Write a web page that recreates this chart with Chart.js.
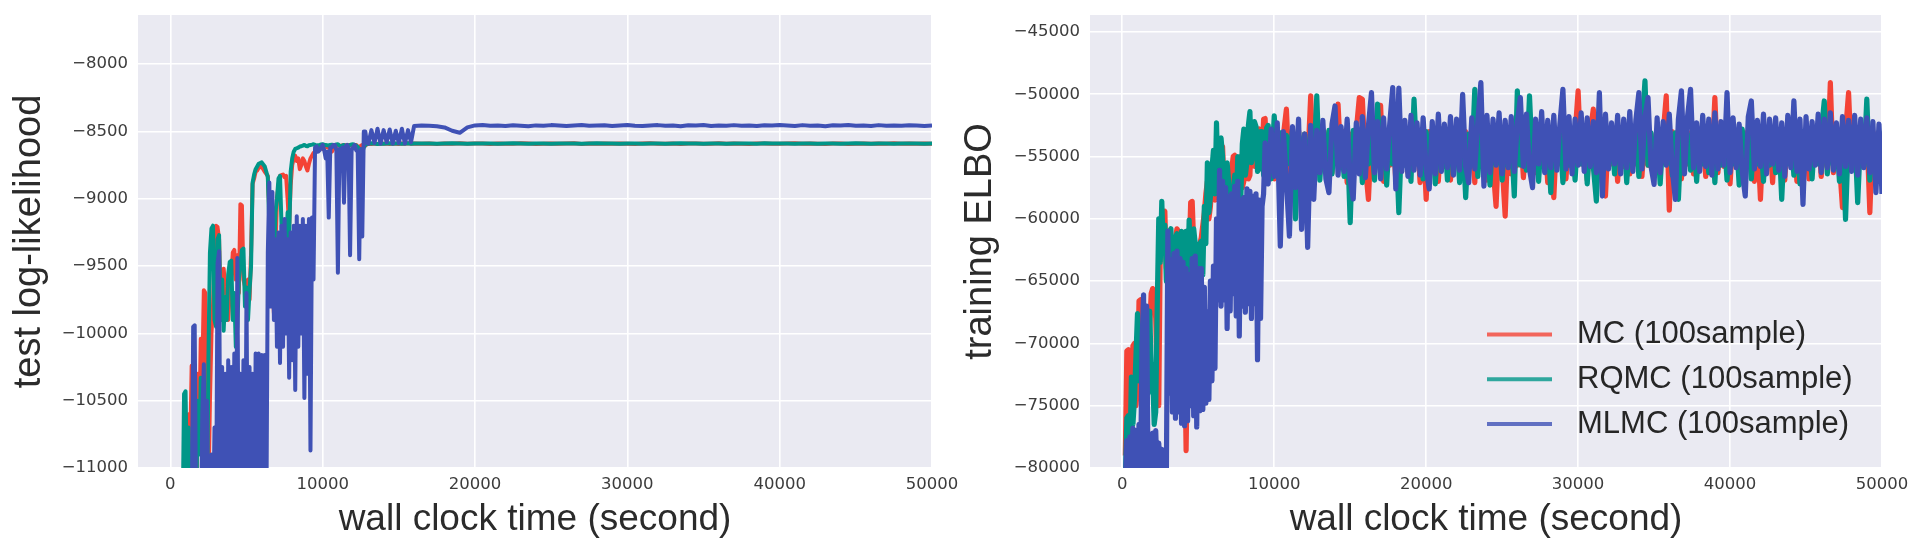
<!DOCTYPE html>
<html>
<head>
<meta charset="utf-8">
<script src="https://cdn.jsdelivr.net/npm/chart.js@4.4.1/dist/chart.umd.min.js"></script>
<style>
  body { margin: 0; background: #fff; width: 1926px; height: 555px; overflow: hidden; position: relative; }
  canvas { position: absolute; top: 0; }
  #llChart { left: 0; }
  #elboChart { left: 950px; }
</style>
</head>
<body>
<canvas id="llChart" width="970" height="555"></canvas>
<canvas id="elboChart" width="976" height="555"></canvas>
<script>
// ---- data ----
const timeTicks = [0, 10000, 20000, 30000, 40000, 50000];
const llTicks = [-11000, -10500, -10000, -9500, -9000, -8500, -8000];
const elboTicks = [-80000, -75000, -70000, -65000, -60000, -55000, -50000, -45000];
const legendNames = ['MC (100sample)', 'RQMC (100sample)', 'MLMC (100sample)'];

// left panel: test log-likelihood (dense samples early, sparse on the plateau)
const llTime = [
  0,100,200,300,400,500,600,700,800,900,
  1000,1100,1200,1300,1400,1500,1600,1700,1800,1900,
  2000,2100,2200,2300,2400,2500,2600,2700,2800,2900,
  3000,3100,3200,3300,3400,3500,3600,3700,3800,3900,
  4000,4100,4200,4300,4400,4500,4600,4700,4800,4900,
  5000,5100,5200,5300,5400,5500,5600,5700,5800,5900,
  6000,6100,6200,6300,6400,6500,6600,6700,6800,6900,
  7000,7100,7200,7300,7400,7500,7600,7700,7800,7900,
  8000,8100,8200,8300,8400,8500,8600,8700,8800,8900,
  9000,9100,9200,9300,9400,9500,9600,9700,9800,9900,
  10000,10100,10200,10300,10400,10500,10600,10700,10800,10900,
  11000,11100,11200,11300,11400,11500,11600,11700,11800,11900,
  12000,12100,12200,12300,12400,12500,12600,12700,12800,12900,
  13000,
  13200,13400,13600,13800,14000,14200,14400,14600,14800,15000,15200,15400,15600,15800,16000,
  16500,17000,17500,18000,18500,19000,19500,20000,
  20500,21000,21500,22000,22500,23000,23500,24000,
  24500,25000,25500,26000,26500,27000,27500,28000,
  28500,29000,29500,30000,30500,31000,31500,32000,
  32500,33000,33500,34000,34500,35000,35500,36000,
  36500,37000,37500,38000,38500,39000,39500,40000,
  40500,41000,41500,42000,42500,43000,43500,44000,
  44500,45000,45500,46000,46500,47000,47500,48000,
  48500,49000,49500,50000
];
const llMc = [
  null,null,null,null,null,null,null,null,null,null,
  -11500,-11500,-10600,-10900,-10240,-10300,-11200,-11500,-10300,-10700,
  -10040,-10300,-9680,-9700,-10900,-11200,-10500,-10000,-9800,-9400,
  -9200,-9210,-9300,-9800,-9600,-9520,-9650,-9750,-9900,-9700,
  -9600,-9400,-9380,-9600,-9420,-9700,-9040,-9050,-9600,-9650,
  -9700,-9600,-9750,-9400,-8890,-8850,-8800,-8790,-8770,-8765,
  -8760,-8780,-8800,-8815,-8830,-9100,-9330,-9650,-9850,-9400,
  -9000,-8900,-8830,-8825,-8820,-8840,-8830,-9000,-9200,-8900,
  -8750,-8700,-8680,-8720,-8700,-8780,-8750,-8700,-8720,-8760,
  -8790,-8740,-8700,-8680,-8660,-8650,-8640,-8630,-8620,-8625,
  -8630,-8615,-8610,-8618,-8620,-8640,-8650,-8630,-8620,-8610,
  -8600,-8605,-8610,-8603,-8600,-8602,-8605,-8601,-8600,-8606,
  -8610,-8603,-8600,-8612,-8620,-8608,-8600,-8602,-8605,-8596,
  -8592,
  -8594,-8590,-8593,-8589,-8592,-8590,-8594,-8589,-8591,-8593,-8590,-8592,-8588,-8591,-8590,
  -8592,-8589,-8593,-8590,-8591,-8588,-8592,-8590,
  -8589,-8593,-8590,-8591,-8592,-8588,-8590,-8593,
  -8591,-8589,-8592,-8590,-8588,-8593,-8590,-8591,
  -8590,-8592,-8589,-8591,-8593,-8590,-8588,-8592,
  -8591,-8590,-8593,-8589,-8590,-8592,-8591,-8588,
  -8592,-8590,-8591,-8593,-8589,-8590,-8592,-8591,
  -8590,-8588,-8592,-8590,-8591,-8593,-8589,-8590,
  -8593,-8591,-8589,-8592,-8590,-8591,-8588,-8592,
  -8590,-8592,-8589,-8591
];
const llRqmc = [
  null,null,null,null,null,null,null,null,-11500,-10450,
  -10430,-11200,-10700,-11500,-11500,-10900,-10800,-11300,-10500,-10900,
  -10330,-10600,-10800,-11500,-11500,-10200,-9400,-9220,-9200,-9900,
  -9950,-9300,-9270,-9900,-9600,-9980,-9730,-9900,-9560,-9470,
  -9460,-9900,-9700,-10100,-9950,-9600,-9500,-9380,-9370,-9800,
  -9660,-9900,-9680,-9500,-8880,-8820,-8780,-8760,-8740,-8735,
  -8730,-8745,-8760,-8800,-8840,-9200,-9050,-9400,-9500,-9100,
  -9000,-8850,-8830,-9200,-9700,-9400,-9350,-9100,-9300,-8800,
  -8700,-8650,-8630,-8625,-8620,-8612,-8610,-8605,-8600,-8608,
  -8610,-8602,-8600,-8598,-8595,-8600,-8605,-8602,-8600,-8597,
  -8595,-8598,-8600,-8603,-8605,-8600,-8598,-8601,-8600,-8597,
  -8595,-8605,-8610,-8604,-8600,-8612,-8620,-8608,-8600,-8597,
  -8595,-8600,-8605,-8615,-8630,-8645,-8650,-8620,-8600,-8594,
  -8592,
  -8588,-8590,-8593,-8589,-8591,-8590,-8588,-8592,-8590,-8589,-8591,-8590,-8588,-8592,-8590,
  -8590,-8589,-8591,-8590,-8588,-8590,-8592,-8590,
  -8589,-8590,-8591,-8590,-8588,-8590,-8591,-8589,
  -8590,-8592,-8590,-8589,-8590,-8591,-8590,-8588,
  -8590,-8589,-8591,-8590,-8590,-8592,-8589,-8590,
  -8591,-8590,-8588,-8590,-8589,-8591,-8590,-8590,
  -8592,-8590,-8589,-8590,-8591,-8588,-8590,-8590,
  -8589,-8591,-8590,-8590,-8592,-8589,-8590,-8591,
  -8590,-8588,-8590,-8591,-8589,-8590,-8592,-8590,
  -8589,-8590,-8591,-8590
];
const llMlmc = [
  null,null,null,null,null,null,null,null,null,null,
  null,null,null,null,-11500,-9950,-9940,-11500,-11500,-11500,
  -11500,-10600,-10230,-11500,-10500,-11500,-11500,-10900,-11500,-10700,
  -11500,-9480,-9390,-11500,-10250,-11500,-10300,-11500,-10200,-11500,
  -10250,-11500,-10150,-11500,-9440,-11500,-10300,-11500,-10200,-11500,
  -9700,-11500,-10250,-11500,-10300,-11500,-10150,-11500,-10150,-11500,
  -10160,-11500,-10160,-11500,-9400,-8880,-9800,-8950,-9900,-9300,
  -10100,-9250,-10220,-9200,-10100,-9150,-10000,-9300,-10330,-9250,
  -10200,-9200,-10420,-9130,-10100,-9200,-10000,-9150,-10480,-9200,
  -10300,-9150,-10870,-9140,-9600,-8620,-8610,-8650,-8640,-8620,
  -8600,-8640,-8700,-8650,-9140,-8620,-8620,-8600,-8600,-8640,
  -9550,-8630,-8650,-8620,-9030,-8610,-8600,-8620,-9420,-8640,
  -8620,-8600,-8640,-8650,-9450,-8630,-9280,-8500,-8500,-8585,
  -8590,
  -8490,-8585,-8480,-8590,-8490,-8580,-8485,-8590,-8495,-8585,-8480,-8590,-8490,-8580,-8460,
  -8455,-8458,-8462,-8470,-8495,-8510,-8470,-8455,
  -8452,-8458,-8455,-8460,-8454,-8457,-8462,-8455,
  -8458,-8453,-8456,-8460,-8455,-8452,-8458,-8456,
  -8454,-8459,-8455,-8452,-8457,-8460,-8455,-8453,
  -8458,-8455,-8461,-8454,-8456,-8452,-8459,-8455,
  -8457,-8453,-8458,-8455,-8460,-8454,-8456,-8452,
  -8455,-8459,-8453,-8457,-8455,-8461,-8454,-8456,
  -8452,-8458,-8455,-8460,-8453,-8457,-8455,-8458,
  -8454,-8456,-8459,-8455
];

// right panel: training ELBO (100 s samples up to 9600 s, then 200 s)
const elboTime = [
  0,100,200,300,400,500,600,700,800,900,
  1000,1100,1200,1300,1400,1500,1600,1700,1800,1900,
  2000,2100,2200,2300,2400,2500,2600,2700,2800,2900,
  3000,3100,3200,3300,3400,3500,3600,3700,3800,3900,
  4000,4100,4200,4300,4400,4500,4600,4700,4800,4900,
  5000,5100,5200,5300,5400,5500,5600,5700,5800,5900,
  6000,6100,6200,6300,6400,6500,6600,6700,6800,6900,
  7000,7100,7200,7300,7400,7500,7600,7700,7800,7900,
  8000,8100,8200,8300,8400,8500,8600,8700,8800,8900,
  9000,9100,9200,9300,9400,9500,9600,
  9800,
  10000,10200,10400,10600,10800,11000,11200,11400,11600,11800,
  12000,12200,12400,12600,12800,13000,13200,13400,13600,13800,
  14000,14200,14400,14600,14800,15000,15200,15400,15600,15800,
  16000,16200,16400,16600,16800,17000,17200,17400,17600,17800,
  18000,18200,18400,18600,18800,19000,19200,19400,19600,19800,
  20000,20200,20400,20600,20800,21000,21200,21400,21600,21800,
  22000,22200,22400,22600,22800,23000,23200,23400,23600,23800,
  24000,24200,24400,24600,24800,25000,25200,25400,25600,25800,
  26000,26200,26400,26600,26800,27000,27200,27400,27600,27800,
  28000,28200,28400,28600,28800,29000,29200,29400,29600,29800,
  30000,30200,30400,30600,30800,31000,31200,31400,31600,31800,
  32000,32200,32400,32600,32800,33000,33200,33400,33600,33800,
  34000,34200,34400,34600,34800,35000,35200,35400,35600,35800,
  36000,36200,36400,36600,36800,37000,37200,37400,37600,37800,
  38000,38200,38400,38600,38800,39000,39200,39400,39600,39800,
  40000,40200,40400,40600,40800,41000,41200,41400,41600,41800,
  42000,42200,42400,42600,42800,43000,43200,43400,43600,43800,
  44000,44200,44400,44600,44800,45000,45200,45400,45600,45800,
  46000,46200,46400,46600,46800,47000,47200,47400,47600,47800,
  48000,48200,48400,48600,48800,49000,49200,49400,49600,49800,
  50000
];
const elboMc = [
  null,null,-79000,-70600,-70500,-76000,-74000,-70200,-70000,-75000,
  -73500,-66600,-66500,-72000,-71000,-76000,-74000,-69500,-69000,-66000,
  -65600,-65800,-68000,-73000,-75000,-62000,-60000,-59500,-59400,-64000,
  -63000,-61000,-62000,-66000,-65000,-61500,-60800,-61000,-61700,-66000,
  -64500,-70000,-78600,-70000,-63000,-58700,-58600,-62000,-62500,-66000,
  -65000,-62000,-61500,-60500,-59500,-58000,-57000,-60000,-59000,-57000,
  -56500,-58500,-55800,-57000,-58000,-54300,-54200,-57500,-57500,-60000,
  -59500,-56500,-56000,-55000,-54900,-58000,-58500,-55500,-55000,-57500,
  -57000,-54000,-53500,-56800,-56500,-53200,-53000,-55800,-55500,-52900,
  -52800,-55500,-55000,-52000,-51950,-55000,-56500,
  -53000,
  -56800,-53100,-55600,-53300,-51200,-56600,-53000,-55700,-52900,-56400,
  -53200,-55600,-50130,-57200,-53100,-55800,-52800,-55600,-53000,-56300,
  -53300,-50800,-55700,-53000,-57100,-53200,-55600,-52900,-50270,-50400,
  -55800,-58440,-53100,-55600,-53300,-50900,-57000,-53000,-55700,-52700,
  -56900,-53200,-55600,-53000,-56300,-53100,-55700,-52900,-57100,-53300,
  -58440,-53000,-55600,-53200,-57000,-52800,-55800,-53100,-56900,-53000,
  -55600,-53300,-56500,-53000,-55700,-53200,-57100,-52900,-55600,-53100,
  -56900,-53000,-55800,-59000,-53200,-55600,-59780,-53000,-56400,-53300,
  -55700,-52800,-56700,-53100,-55600,-53000,-56300,-53200,-55800,-52900,
  -57100,-53100,-58300,-53000,-55600,-53300,-56800,-53000,-55700,-53200,
  -49730,-55600,-53100,-56900,-53000,-51200,-55700,-53200,-57100,-58170,
  -52900,-55600,-53100,-57000,-53000,-55800,-53300,-56400,-52800,-55600,
  -53100,-56600,-53000,-55700,-53200,-56300,-52900,-55600,-53100,-50130,
  -59300,-53000,-55800,-53200,-56800,-52800,-55600,-53100,-56400,-53000,
  -55700,-53300,-56600,-52900,-55600,-50270,-56300,-53100,-55800,-53000,
  -57200,-53200,-55600,-52800,-56900,-53100,-55700,-53000,-57000,-53300,
  -58440,-53000,-55600,-53200,-57100,-52900,-55800,-53100,-56900,-53000,
  -55600,-53300,-57000,-53000,-55700,-53200,-56800,-52900,-55600,-53100,
  -56600,-53000,-55800,-49060,-56300,-53200,-55600,-59100,-53000,-49870,
  -55700,-53100,-57000,-53300,-55600,-52800,-59500,-53000,-56400,-53100,
  -57000
];
const elboRqmc = [
  null,null,-81000,-76000,-75800,-79000,-72700,-76500,-74500,-71000,
  -67600,-73000,-69500,-74000,-72000,-75500,-70000,-74000,-67400,-71500,
  -72500,-76500,-75500,-67000,-60000,-63500,-58600,-62500,-60500,-65000,
  -63500,-61000,-60800,-66000,-65500,-61500,-61200,-66500,-64000,-61000,
  -66000,-62500,-61000,-65000,-60100,-64000,-64500,-60800,-62000,-67000,
  -66500,-62000,-61800,-64500,-59000,-62000,-55500,-59500,-58200,-56000,
  -54500,-58000,-52300,-57000,-57500,-53500,-55000,-59000,-59800,-55500,
  -57000,-60500,-66000,-58000,-56500,-59500,-55000,-60000,-58500,-54000,
  -52800,-56500,-55500,-52500,-51400,-55500,-54800,-52200,-52600,-56200,
  -56000,-53000,-53000,-56500,-55800,-52700,-52500,
  -56800,
  -51740,-55700,-53100,-57000,-53300,-55600,-52800,-60000,-53000,-55800,
  -53200,-57300,-53000,-55600,-50130,-56900,-53100,-55700,-52900,-56400,
  -53300,-55600,-53000,-56600,-53200,-60300,-52900,-55700,-53100,-57100,
  -53000,-55600,-53200,-56900,-50800,-55800,-53100,-57300,-52800,-55600,
  -53200,-59500,-53000,-55700,-53300,-57000,-50400,-55600,-53100,-56800,
  -53000,-55700,-52900,-57200,-53200,-55600,-53000,-56900,-52700,-55800,
  -53100,-57100,-53000,-58300,-53200,-55600,-49600,-56600,-53100,-55700,
  -53000,-57300,-52900,-55600,-53200,-56900,-53000,-55800,-53300,-58170,
  -49730,-55700,-53000,-56100,-50130,-55600,-53200,-57000,-53000,-55800,
  -53100,-57900,-52800,-55600,-53200,-57100,-53000,-55700,-53100,-56900,
  -52900,-55600,-53300,-57200,-53000,-55800,-58580,-53100,-56700,-53000,
  -55600,-53200,-56400,-52900,-55700,-53100,-57100,-53000,-55600,-53200,
  -56600,-52800,-48930,-55700,-53100,-56300,-53000,-57200,-53200,-55600,
  -53000,-56500,-53100,-58440,-52900,-55800,-53200,-56100,-53000,-57000,
  -53100,-55600,-53000,-56300,-53300,-57100,-52900,-55700,-53100,-56900,
  -53000,-55600,-53200,-57300,-52800,-55800,-53100,-56800,-53000,-55600,
  -53200,-57000,-52900,-55700,-53100,-56300,-53000,-58440,-53200,-55600,
  -52900,-56500,-53100,-57200,-53000,-55700,-53200,-56800,-52800,-55600,
  -53100,-50540,-56400,-53000,-55700,-53200,-57000,-52900,-60050,-53100,
  -55600,-53000,-58700,-53200,-55800,-50400,-56900,-53100,-55600,-53000,
  -57200
];
const elboMlmc = [
  null,null,-81000,-77800,-81000,-77500,-81000,-76800,-81000,-77000,
  -81000,-76500,-81000,-70000,-66100,-81000,-67000,-81000,-78000,-81000,
  -77200,-81000,-77000,-81000,-78000,-81000,-78500,-81000,-79000,-81000,
  -61000,-74000,-63300,-75500,-62800,-76000,-62600,-75500,-63200,-76400,
  -63500,-76600,-64000,-76200,-64500,-75000,-63200,-75800,-63000,-76700,
  -64000,-75400,-64000,-75300,-65500,-74800,-67500,-74500,-65000,-73000,
  -63800,-72000,-60000,-66500,-56100,-67000,-57000,-66500,-57500,-68800,
  -58200,-67400,-58000,-66000,-57400,-67800,-57000,-69400,-58500,-67000,
  -58300,-67500,-57600,-66800,-57800,-68000,-58200,-66800,-58000,-71300,
  -58500,-68000,-59000,-58000,-53900,-56800,-57200,
  -52800,
  -56600,-52300,-62200,-53000,-57000,-61400,-52600,-57500,-52000,-60850,
  -53200,-62300,-52500,-58440,-52900,-56300,-52100,-56800,-57900,-52400,
  -50940,-56500,-52600,-56200,-52000,-56900,-58400,-52300,-56400,-51800,
  -56700,-52500,-49870,-56300,-52200,-56800,-51900,-56000,-52400,-49460,
  -57600,-49500,-56200,-52100,-56600,-51700,-56100,-52300,-56500,-51900,
  -56000,-57600,-52200,-56400,-51600,-56200,-52400,-55900,-51800,-56500,
  -52000,-56100,-50000,-55800,-57100,-51900,-56000,-52200,-49060,-57370,
  -51700,-56300,-52000,-55700,-51500,-56400,-52100,-55900,-51800,-56200,
  -52300,-50270,-55800,-51600,-56000,-57500,-52000,-55600,-51400,-56300,
  -52100,-55900,-51700,-56100,-52400,-49600,-56000,-51800,-56400,-52000,
  -55700,-51500,-56200,-51900,-55800,-52200,-56300,-49870,-58170,-51600,
  -56000,-52300,-55600,-51700,-56400,-52000,-55900,-51400,-56200,-52100,
  -49870,-56000,-51800,-50270,-55800,-57240,-51900,-56300,-52200,-55700,
  -51600,-56100,-58440,-52000,-49730,-56400,-51800,-49600,-55900,-52300,
  -56200,-51700,-55800,-52000,-56500,-51500,-56000,-52200,-55700,-49870,
  -56300,-51900,-55900,-52400,-56200,-58170,-51800,-50540,-56000,-52100,
  -55800,-51600,-56400,-52000,-55600,-51900,-56100,-52300,-56600,-51700,
  -55900,-50540,-56200,-52000,-58840,-51800,-56000,-52200,-55700,-51600,
  -56300,-52000,-55900,-51500,-56100,-52300,-56400,-51800,-55800,-52100,
  -56200,-51700,-56500,-52000,-55900,-51900,-56300,-52200,-57900,-52400,
  -58000
];

// ---- styling ----
const colMc = '#F44336';
const colRqmc = '#009688';
const colMlmc = '#3F51B5';
const legendColors = ['rgba(244,67,54,0.8)', 'rgba(0,150,136,0.8)', 'rgba(63,81,181,0.8)'];
const titleFont = '"Liberation Sans", Arial, sans-serif';
const tickFont = '"DejaVu Sans", sans-serif';

// gray plot background like seaborn darkgrid
const plotBg = {
  id: 'plotBg',
  beforeDraw(chart) {
    const { ctx, chartArea: a } = chart;
    ctx.save();
    ctx.fillStyle = '#EAEAF2';
    ctx.fillRect(a.left, a.top, a.right - a.left, a.bottom - a.top);
    ctx.restore();
  }
};

// legend sits inside the plot, lower right
const insetLegend = {
  id: 'insetLegend',
  afterDraw(chart, args, opts) {
    if (!opts.show) return;
    const { ctx, chartArea: a } = chart;
    ctx.save();
    ctx.font = '31px ' + titleFont;
    ctx.textBaseline = 'middle';
    ctx.textAlign = 'left';
    legendNames.forEach((name, k) => {
      const y = a.bottom - 133.5 + k * 44.8;
      ctx.strokeStyle = legendColors[k];
      ctx.lineWidth = 4;
      ctx.beginPath();
      ctx.moveTo(a.right - 395, y);
      ctx.lineTo(a.right - 330, y);
      ctx.stroke();
      ctx.fillStyle = '#262626';
      ctx.fillText(name, a.right - 305, y);
    });
    ctx.restore();
  }
};

function toPoints(times, values) {
  return times.map((t, k) => ({ x: t, y: values[k] }));
}

function lineSet(label, color, times, values, order, width) {
  return {
    label: label,
    data: toPoints(times, values),
    borderColor: color,
    backgroundColor: color,
    borderWidth: width,
    borderJoinStyle: 'round',
    pointRadius: 0,
    tension: 0,
    spanGaps: false,
    order: order
  };
}

function makePanel(id, cfg) {
  const canvas = document.getElementById(id);
  return new Chart(canvas.getContext('2d'), {
    type: 'line',
    data: {
      datasets: [
        lineSet(legendNames[0], colMc, cfg.time, cfg.mc, 3, cfg.lineWidth),
        lineSet(legendNames[1], colRqmc, cfg.time, cfg.rqmc, 2, cfg.lineWidth),
        lineSet(legendNames[2], colMlmc, cfg.time, cfg.mlmc, 1, cfg.lineWidth)
      ]
    },
    options: {
      responsive: false,
      animation: false,
      events: [],
      layout: { padding: { left: 0, top: 15, right: canvas.width - cfg.areaRight, bottom: 0 } },
      plugins: {
        legend: { display: false },
        tooltip: { enabled: false },
        insetLegend: { show: cfg.legend }
      },
      scales: {
        x: {
          type: 'linear',
          min: cfg.xMin,
          max: 50000,
          afterBuildTicks: s => { s.ticks = timeTicks.map(v => ({ value: v })); },
          afterFit: s => { s.height = 87; s.paddingLeft = 0; s.paddingRight = 0; },
          grid: { color: '#FFFFFF', lineWidth: 1.6, drawTicks: false },
          border: { display: false },
          ticks: {
            padding: 7, color: '#3c3c3c', autoSkip: false, maxRotation: 0,
            font: { family: tickFont, size: 16.5 },
            callback: v => String(v)
          },
          title: {
            display: true, text: 'wall clock time (second)', color: '#2b2b2b',
            font: { family: titleFont, size: 37 }, padding: { top: 0, bottom: 13 }
          }
        },
        y: {
          type: 'linear',
          min: cfg.yMin,
          max: cfg.yMax,
          afterBuildTicks: s => { s.ticks = cfg.yTicks.map(v => ({ value: v })); },
          afterFit: s => { s.width = cfg.areaLeft; s.paddingTop = 0; s.paddingBottom = 0; },
          grid: { color: '#FFFFFF', lineWidth: 1.6, drawTicks: false },
          border: { display: false },
          ticks: {
            padding: 10, color: '#3c3c3c',
            font: { family: tickFont, size: 16.5 },
            callback: v => String(v).replace('-', '\u2212')
          },
          title: {
            display: true, text: cfg.yTitle, color: '#2b2b2b',
            font: { family: titleFont, size: 38 }, padding: { top: cfg.titlePad, bottom: 0 }
          }
        }
      }
    },
    plugins: [plotBg, insetLegend]
  });
}

makePanel('llChart', {
  time: llTime, mc: llMc, rqmc: llRqmc, mlmc: llMlmc,
  xMin: -2122, yMin: -11000, yMax: -7635, yTicks: llTicks,
  yTitle: 'test log-likelihood', areaLeft: 138, areaRight: 932, titlePad: 7,
  lineWidth: 4, legend: false
});

makePanel('elboChart', {
  time: elboTime, mc: elboMc, rqmc: elboRqmc, mlmc: elboMlmc,
  xMin: -2125, yMin: -80000, yMax: -43640, yTicks: elboTicks,
  yTitle: 'training ELBO', areaLeft: 140, areaRight: 932, titlePad: 8,
  lineWidth: 5.2, legend: true
});
</script>
</body>
</html>
